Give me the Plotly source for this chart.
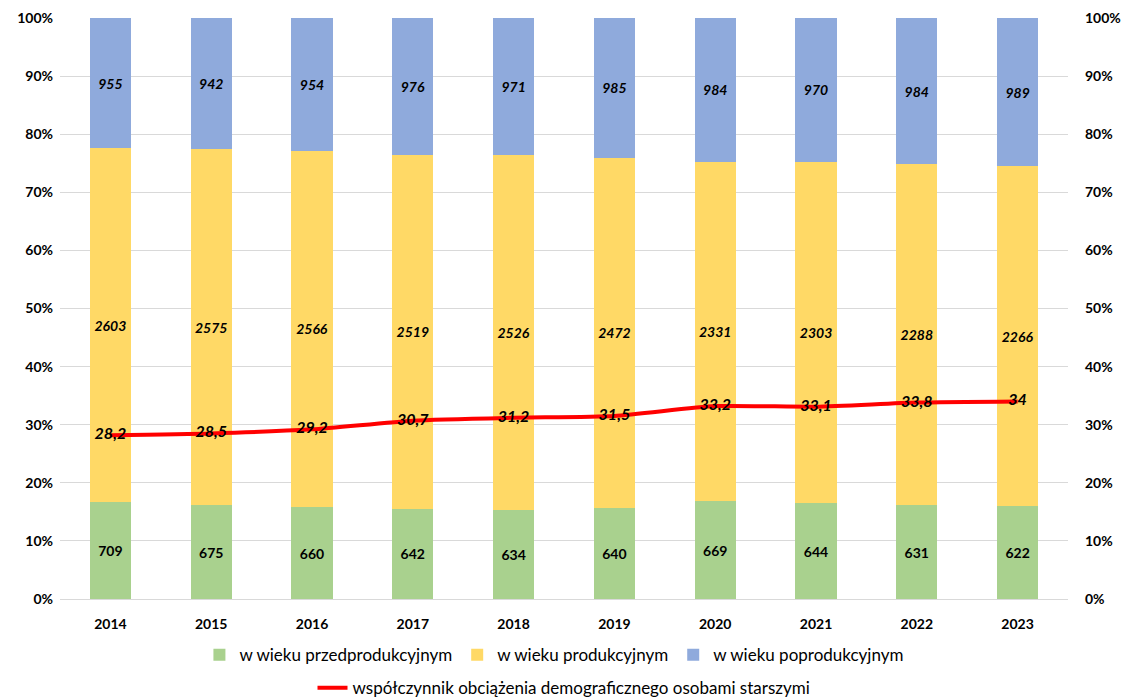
import plotly.graph_objects as go

years = ["2014", "2015", "2016", "2017", "2018", "2019", "2020", "2021", "2022", "2023"]
pre = [709, 675, 660, 642, 634, 640, 669, 644, 631, 622]
prod = [2603, 2575, 2566, 2519, 2526, 2472, 2331, 2303, 2288, 2266]
post = [955, 942, 954, 976, 971, 985, 984, 970, 984, 989]
ratio = [28.2, 28.5, 29.2, 30.7, 31.2, 31.5, 33.2, 33.1, 33.8, 34]
ratio_labels = ["28,2", "28,5", "29,2", "30,7", "31,2", "31,5", "33,2", "33,1", "33,8", "34"]
tick_vals = list(range(0, 101, 10))
tick_text = [f"{v}%" for v in tick_vals]

FONT = "Lato"
fig = go.Figure()

def bar(name, vals, color, italic):
    fig.add_trace(go.Bar(
        x=years, y=vals, name=name, marker=dict(color=color, line=dict(width=0)),
        text=[str(v) for v in vals], textposition="inside", insidetextanchor="middle",
        textangle=0,
        textfont=dict(family=FONT, size=14, color="black", weight="bold",
                      style="italic" if italic else "normal"),
        legend="legend", hoverinfo="skip",
    ))

bar("w wieku przedprodukcyjnym", pre, "#A9D18E", False)
bar("w wieku produkcyjnym", prod, "#FFD966", True)
bar("w wieku poprodukcyjnym", post, "#8FAADC", True)

fig.add_trace(go.Scatter(
    x=years, y=ratio, name="współczynnik obciążenia demograficznego osobami starszymi",
    mode="lines+text", text=ratio_labels, textposition="middle center",
    textfont=dict(family=FONT, size=16, color="black", weight="bold", style="italic"),
    line=dict(color="#FF0000", width=4, shape="spline", smoothing=0.6),
    legend="legend2", hoverinfo="skip",
))

fig.add_trace(go.Scatter(x=years, y=ratio, yaxis="y2", mode="lines",
                         line=dict(width=0), showlegend=False, hoverinfo="skip"))

axis_font = dict(family=FONT, size=14, color="black", weight="bold")
legend_font = dict(family=FONT, size=17, color="black")
fig.update_layout(
    width=1127, height=700,
    margin=dict(l=60, r=59, t=18, b=101, autoexpand=False),
    paper_bgcolor="white", plot_bgcolor="white",
    barmode="stack", barnorm="percent", bargap=0.59,
    font=dict(family=FONT),
    xaxis=dict(tickfont=axis_font, showgrid=False, showline=True, linecolor="#d9d9d9",
               linewidth=1, ticks="", type="category", automargin=False,
               ticklabelstandoff=12),
    yaxis=dict(range=[0, 100], tickvals=tick_vals, ticktext=tick_text, tickfont=axis_font,
               showgrid=True, gridcolor="#d9d9d9", gridwidth=1, zeroline=False,
               ticks="", showline=False, automargin=False, ticklabelstandoff=6),
    yaxis2=dict(range=[0, 100], overlaying="y", side="right", tickvals=tick_vals,
                ticktext=tick_text, tickfont=axis_font, showgrid=False, zeroline=False,
                ticks="", showline=False, automargin=False, ticklabelstandoff=16),
    legend=dict(orientation="h", x=0.49, xanchor="center", yref="container",
                y=0.064, yanchor="middle", font=legend_font, itemwidth=30,
                traceorder="normal"),
    legend2=dict(orientation="h", x=0.5, xanchor="center", yref="container",
                 y=0.017, yanchor="middle", font=legend_font, itemwidth=30),
    showlegend=True,
)

fig.write_html("out.html")
